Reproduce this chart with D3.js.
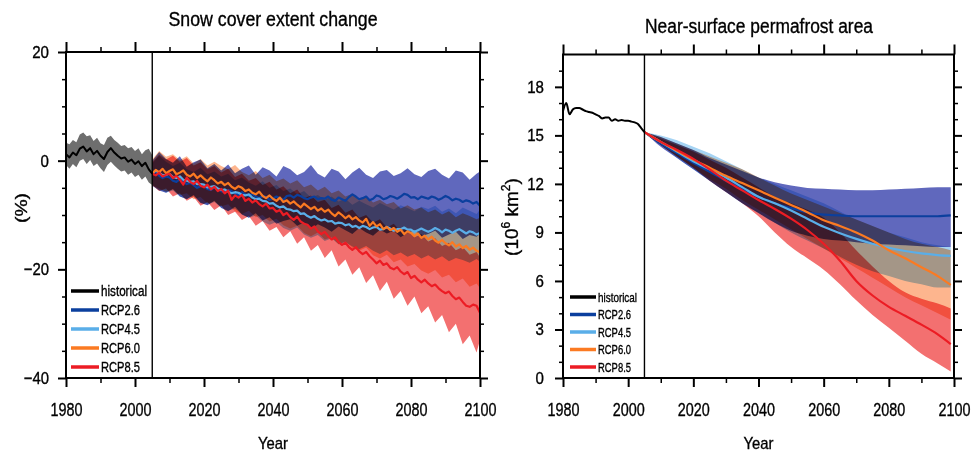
<!DOCTYPE html>
<html lang="en">
<head>
  <meta charset="UTF-8">
  <title>Snow cover extent change / Near-surface permafrost area</title>
  <style>
    body { margin: 0; background: #fff; }
    svg text { font-family: "Liberation Sans", Arial, sans-serif; fill: #000; stroke: #000; stroke-width: 0.35px; }
  </style>
</head>
<body>
<svg id="chart" width="971" height="452"></svg>
<script src="https://d3js.org/d3.v7.min.js"></script>
<script>
  // ---------- data ----------
  var scenarios = ['RCP2.6', 'RCP4.5', 'RCP6.0', 'RCP8.5'];
  var legendLabels = ['historical', 'RCP2.6', 'RCP4.5', 'RCP6.0', 'RCP8.5'];

  // snow cover extent change (%), historical 1980-2005
  var snowHistYears = d3.range(1980, 2006);
  var snowHist = [1.2, 0.6, 1.5, 1.0, 2.2, 2.6, 1.7, 2.3, 1.2, 1.8, 0.9, 0.3, 1.6, 2.3, 1.5, 0.9, 0.4, 0.6, -0.2, 0.2, -0.6, -0.1, -1.0, -0.4, -1.6, -2.4];
  var snowHistHi = [3.3, 3.0, 3.8, 3.4, 4.8, 5.2, 4.5, 4.7, 3.6, 4.2, 3.2, 2.9, 4.2, 4.6, 3.8, 3.3, 2.7, 2.9, 2.3, 2.5, 1.8, 2.3, 1.2, 1.9, 2.2, 1.0];
  var snowHistLo = [-0.8, -1.5, -0.6, -1.2, 0.0, 0.3, -0.6, 0.1, -1.0, -0.5, -1.4, -2.1, -0.8, -0.2, -0.9, -1.5, -2.0, -1.8, -2.6, -2.2, -3.0, -2.6, -3.5, -2.9, -4.0, -4.5];

  // scenario means 2005-2100, yearly
  var snowYears = d3.range(2005, 2101);
  var snowRcp26 = [-2.4, -2.1, -2.8, -3.2, -2.9, -3.1, -3.7, -3.9, -3.4, -3.8,
    -4.3, -4.1, -4.5, -5.0, -4.7, -4.6, -5.2, -5.4, -4.9, -5.3,
    -5.6, -5.9, -5.4, -5.6, -6.1, -6.3, -5.8, -6.2, -6.5, -6.1,
    -6.6, -6.9, -6.5, -6.7, -7.2, -7.0, -6.6, -6.9, -7.2, -6.5,
    -6.4, -6.8, -6.3, -6.5, -6.9, -7.1, -6.8, -6.6, -7.1, -6.9,
    -7.0, -6.6, -7.2, -7.4, -6.8, -7.1, -7.4, -6.7, -6.2, -6.6,
    -7.1, -6.9, -6.6, -7.3, -7.0, -6.4, -6.6, -7.1, -6.9, -6.5,
    -6.7, -7.0, -6.6, -6.1, -6.3, -6.8, -6.7, -7.1, -6.6, -6.8,
    -7.0, -6.6, -6.8, -7.2, -6.9, -6.5, -6.8, -7.3, -7.0, -7.2,
    -7.6, -7.3, -7.5, -7.9, -7.6, -8.3];
  var snowRcp45 = [-2.4, -1.8, -2.2, -2.7, -2.6, -2.4, -3.0, -3.2, -2.9, -3.5,
    -3.7, -3.9, -3.8, -4.3, -4.3, -4.4, -4.9, -4.8, -4.7, -5.1,
    -5.4, -5.3, -5.7, -6.0, -5.8, -5.9, -6.3, -6.4, -6.2, -6.8,
    -7.1, -7.0, -7.4, -7.5, -7.9, -7.8, -8.3, -8.6, -8.4, -8.9,
    -9.0, -9.3, -9.2, -9.8, -9.7, -10.2, -10.5, -10.2, -10.7, -11.0,
    -10.8, -11.2, -11.1, -11.6, -11.4, -11.5, -11.9, -11.7, -12.2, -12.0,
    -12.4, -12.0, -12.2, -12.6, -12.3, -12.2, -12.7, -12.6, -12.2, -12.5,
    -12.9, -12.6, -12.6, -12.3, -12.7, -12.7, -13.1, -12.8, -12.5, -12.8,
    -13.1, -12.8, -12.4, -12.7, -13.2, -12.7, -12.9, -13.3, -12.9, -12.6,
    -13.0, -13.4, -13.0, -13.2, -13.6, -13.3];
  var snowRcp60 = [-2.4, -1.7, -2.1, -1.5, -2.3, -1.9, -1.6, -2.5, -2.2, -1.8,
    -2.6, -2.9, -2.4, -3.2, -2.7, -3.3, -3.8, -3.1, -3.6, -4.2,
    -3.9, -4.5, -4.1, -4.8, -5.2, -4.7, -5.0, -5.6, -5.3, -5.9,
    -6.2, -5.7, -6.5, -6.9, -6.4, -7.0, -7.4, -6.8, -7.6, -7.3,
    -7.9, -7.5, -8.1, -8.6, -7.9, -8.4, -8.9, -8.5, -9.2, -8.8,
    -9.4, -9.0, -9.7, -10.2, -9.5, -10.0, -10.6, -10.1, -10.8, -10.4,
    -11.0, -11.4, -10.7, -12.0, -11.3, -12.1, -11.7, -12.6, -12.2, -12.8,
    -12.4, -13.1, -12.7, -13.5, -13.0, -13.3, -13.9, -13.4, -14.2, -13.8,
    -14.5, -14.0, -14.7, -15.1, -14.6, -15.2, -15.6, -15.0, -15.8, -15.4,
    -16.1, -15.7, -16.4, -16.0, -16.6, -16.9];
  var snowRcp85 = [-2.4, -2.7, -2.2, -2.9, -2.6, -2.4, -3.2, -2.8, -3.5, -4.4,
    -3.1, -3.9, -4.3, -3.7, -4.6, -4.9, -4.4, -5.3, -4.8, -5.6,
    -5.2, -6.0, -5.5, -7.2, -6.4, -6.8, -6.3, -7.4, -7.0, -7.7,
    -7.3, -8.0, -8.4, -7.9, -8.8, -8.7, -9.4, -9.1, -10.0, -9.6,
    -10.4, -10.9, -10.3, -11.2, -11.6, -11.8, -12.5, -12.1, -13.0, -13.5,
    -13.1, -13.9, -14.5, -14.1, -15.0, -15.5, -15.1, -15.9, -16.4, -15.9,
    -16.7, -17.2, -16.8, -17.6, -18.2, -18.9, -18.4, -19.2, -18.9, -19.7,
    -20.0, -19.6, -20.4, -20.9, -20.5, -21.6, -21.2, -21.9, -22.4, -21.9,
    -22.6, -23.1, -22.8, -23.5, -24.0, -24.4, -24.1, -24.9, -25.5, -25.2,
    -26.0, -26.7, -26.9, -26.5, -26.7, -28.0];

  // scenario spread, every second year 2005-2099 plus 2100
  var snowBandYears = d3.range(2005, 2100, 2).concat([2100]);
  var snowRcp26Hi = [0.0, 1.6, 0.3, -0.4, 0.8, -1.1, -0.3, 0.2, -1.4, -0.6,
    -1.8, -0.7, -2.3, -1.5, -0.9, -2.6, -1.2, -1.8, -2.9, -1.0,
    -1.6, -2.7, -2.1, -0.8, -2.4, -3.1, -1.5, -2.0, -3.4, -2.2,
    -1.3, -2.6, -3.2, -2.0, -1.7, -2.8, -2.3, -1.4, -2.5, -3.0,
    -1.9, -1.5, -2.6, -3.3, -1.8, -2.2, -3.5, -2.4, -2.0];
  var snowRcp26Lo = [-4.6, -5.5, -5.9, -5.2, -6.6, -7.1, -6.3, -7.8, -8.2, -7.4,
    -8.7, -9.3, -8.5, -9.9, -10.5, -9.7, -11.0, -10.4, -11.6, -11.1,
    -10.8, -12.0, -11.4, -12.6, -11.7, -12.3, -13.1, -12.1, -12.8, -13.5,
    -12.4, -13.2, -13.8, -12.7, -13.4, -12.9, -14.1, -13.3, -12.8, -13.9,
    -13.5, -12.9, -14.2, -13.6, -13.1, -14.4, -13.7, -14.0, -13.5];
  var snowRcp45Hi = [-0.5, 0.9, -0.2, -1.0, -0.4, -1.6, -2.1, -1.3, -2.5, -2.0,
    -2.9, -2.4, -3.6, -3.1, -4.0, -4.6, -3.8, -5.0, -4.5, -5.6,
    -5.1, -6.2, -5.6, -6.8, -6.3, -7.2, -6.6, -7.5, -7.0, -8.1,
    -7.4, -8.0, -8.6, -7.8, -8.4, -9.0, -8.2, -8.7, -9.3, -8.5,
    -8.9, -8.3, -9.4, -8.8, -9.7, -8.6, -9.2, -9.8, -9.0];
  var snowRcp45Lo = [-4.4, -5.3, -5.9, -5.5, -6.6, -7.0, -6.5, -7.7, -8.1, -7.6,
    -8.6, -9.2, -8.8, -9.9, -10.5, -10.1, -11.2, -11.8, -11.3, -12.4,
    -12.9, -12.3, -13.6, -14.2, -13.7, -14.8, -14.3, -15.4, -15.0, -15.8,
    -16.3, -15.7, -16.6, -17.2, -16.5, -17.4, -16.9, -17.7, -17.2, -18.0,
    -17.4, -18.2, -17.6, -18.5, -17.9, -18.3, -18.8, -18.1, -18.6];
  var snowRcp60Hi = [0.2, 1.8, 0.7, 1.2, 0.1, 0.8, -0.5, 0.3, -0.9, -0.2,
    -1.0, -1.6, -0.8, -2.1, -2.7, -1.9, -3.2, -2.6, -3.8, -3.3,
    -4.2, -3.6, -4.9, -4.4, -5.5, -4.8, -6.0, -5.5, -6.6, -6.1,
    -7.1, -6.5, -7.7, -7.2, -8.0, -7.6, -8.8, -8.2, -9.0, -8.6,
    -9.5, -9.0, -9.9, -9.3, -10.4, -9.7, -10.2, -10.8, -10.5];
  var snowRcp60Lo = [-4.6, -5.1, -5.7, -5.3, -6.3, -6.0, -7.1, -6.7, -7.9, -7.5,
    -8.4, -8.0, -9.3, -9.8, -9.2, -10.4, -10.0, -11.2, -10.7, -11.9,
    -12.5, -12.0, -13.3, -13.9, -13.2, -14.5, -14.1, -15.4, -14.9, -16.1,
    -16.6, -16.0, -17.4, -18.0, -17.3, -18.7, -18.2, -19.5, -19.0, -20.2,
    -20.8, -20.1, -21.5, -21.0, -22.4, -21.7, -23.2, -22.6, -23.5];
  var snowRcp85Hi = [-0.3, 1.1, 0.2, 0.9, -0.2, 0.5, -0.9, -0.3, -1.6, -1.0,
    -2.2, -1.5, -3.0, -2.4, -3.7, -3.2, -4.5, -3.9, -5.3, -4.7,
    -6.0, -5.3, -6.9, -6.4, -7.6, -7.2, -8.7, -8.1, -9.6, -9.0,
    -10.5, -10.0, -11.4, -10.8, -12.3, -11.6, -13.0, -12.6, -14.1, -13.5,
    -14.9, -14.3, -15.7, -15.1, -16.5, -15.9, -17.3, -16.8, -17.8];
  var snowRcp85Lo = [-4.5, -5.6, -5.1, -6.6, -6.0, -7.4, -6.7, -8.3, -7.6, -9.1,
    -8.2, -10.0, -9.4, -10.9, -10.2, -12.0, -11.1, -12.9, -12.2, -14.1,
    -13.0, -15.3, -14.1, -16.6, -15.5, -17.9, -16.5, -19.5, -18.2, -21.0,
    -19.6, -22.5, -21.1, -24.0, -22.3, -25.4, -24.0, -26.7, -25.0, -28.1,
    -26.8, -29.8, -28.4, -31.6, -30.0, -33.8, -32.2, -35.3, -33.0];

  // near-surface permafrost area (10^6 km2)
  var permHistYears = d3.range(1980, 2006);
  var permHist = [16.5, 17.0, 16.3, 16.6, 16.7, 16.7, 16.6, 16.5, 16.45, 16.4, 16.3, 16.2, 16.05, 16.1, 16.1, 15.9, 16.0, 15.9, 15.95, 15.9, 15.9, 15.85, 15.8, 15.7, 15.45, 15.2];

  var permYears = [2005, 2010, 2015, 2020, 2025, 2030, 2035, 2040, 2045, 2050, 2055, 2060, 2065, 2070, 2075, 2080, 2085, 2090, 2095, 2099];
  var permRcp26 = [15.2, 14.5, 13.9, 13.3, 12.75, 12.2, 11.7, 11.2, 10.8, 10.5, 10.25, 10.1, 10.05, 10.0, 10.0, 10.0, 10.0, 10.0, 10.0, 10.05];
  var permRcp45 = [15.2, 14.6, 14.0, 13.4, 12.9, 12.4, 11.8, 11.2, 10.8, 10.35, 9.85, 9.35, 8.95, 8.6, 8.3, 8.05, 7.85, 7.7, 7.6, 7.55];
  var permRcp60 = [15.2, 14.6, 14.05, 13.5, 13.0, 12.5, 12.05, 11.6, 11.15, 10.7, 10.25, 9.75, 9.4, 9.0, 8.5, 7.9, 7.4, 6.85, 6.3, 5.75];
  var permRcp85 = [15.2, 14.6, 14.1, 13.55, 12.9, 12.2, 11.6, 11.0, 10.45, 9.85, 9.15, 8.3, 7.25, 6.0, 5.1, 4.4, 3.85, 3.3, 2.7, 2.1];

  var permRcp26Hi = [15.2, 14.9, 14.5, 14.1, 13.6, 13.2, 12.8, 12.4, 12.1, 11.9, 11.75, 11.7, 11.65, 11.6, 11.6, 11.65, 11.7, 11.75, 11.8, 11.8];
  var permRcp26Lo = [15.2, 14.3, 13.6, 12.9, 12.2, 11.5, 10.8, 10.2, 9.6, 9.1, 8.8, 8.6, 8.5, 8.4, 8.3, 8.25, 8.2, 8.15, 8.1, 8.1];
  var permRcp45Hi = [15.2, 15.0, 14.7, 14.3, 13.9, 13.4, 12.9, 12.4, 12.0, 11.6, 11.2, 10.8, 10.3, 9.8, 9.4, 9.0, 8.7, 8.4, 8.2, 8.1];
  var permRcp45Lo = [15.2, 14.4, 13.6, 12.9, 12.2, 11.5, 10.8, 10.2, 9.6, 9.0, 8.5, 8.0, 7.5, 7.0, 6.6, 6.3, 6.0, 5.8, 5.6, 5.6];
  var permRcp60Hi = [15.2, 14.9, 14.5, 14.1, 13.7, 13.3, 12.9, 12.4, 11.9, 11.4, 11.0, 10.6, 10.2, 9.8, 9.4, 9.0, 8.6, 8.3, 8.1, 7.9];
  var permRcp60Lo = [15.2, 14.4, 13.7, 13.0, 12.3, 11.7, 11.0, 10.4, 9.8, 9.2, 8.6, 8.0, 7.4, 6.8, 6.2, 5.6, 5.0, 4.5, 4.0, 3.6];
  var permRcp85Hi = [15.2, 14.8, 14.4, 14.0, 13.5, 13.0, 12.4, 11.8, 11.2, 10.8, 10.4, 9.9, 9.0, 7.9, 6.9, 6.0, 5.3, 4.9, 4.6, 4.3];
  var permRcp85Lo = [15.2, 14.4, 13.7, 13.0, 12.2, 11.5, 10.8, 10.0, 9.0, 8.1, 7.4, 6.7, 5.8, 4.8, 3.9, 3.1, 2.3, 1.5, 0.9, 0.4];

  // ---------- styles ----------
  var lineColor = { 'historical': '#000000', 'RCP2.6': '#0b3f9e', 'RCP4.5': '#5aaee8', 'RCP6.0': '#fb7a22', 'RCP8.5': '#ec1c24' };
  var bandColor = { 'RCP2.6': '#6068bd', 'RCP4.5': '#a5d3f3', 'RCP6.0': '#fdb58e', 'RCP8.5': '#f37070' };

  var svg = d3.select('#chart');

  function zip(xs, ys) {
    return xs.map(function(x, i) { return [x, ys[i]]; });
  }

  function drawPanel(cfg) {
    var g = svg.append('g');
    var x = d3.scaleLinear().domain([1980, 2100]).range([cfg.left, cfg.right]);
    var y = d3.scaleLinear().domain(cfg.yDomain).range([cfg.bottom, cfg.top]);
    var curve = cfg.smooth ? d3.curveMonotoneX : d3.curveLinear;

    var area = d3.area()
      .x(function(d) { return x(d[0]); })
      .y0(function(d) { return y(d[1]); })
      .y1(function(d) { return y(d[2]); })
      .curve(curve);
    var line = d3.line()
      .x(function(d) { return x(d[0]); })
      .y(function(d) { return y(d[1]); })
      .curve(curve);

    // historical spread
    if (cfg.histHi) {
      g.append('path')
        .datum(cfg.histYears.map(function(yr, i) { return [yr, cfg.histLo[i], cfg.histHi[i]]; }))
        .attr('fill', '#6e6e6e')
        .attr('d', area);
    }

    // scenario spreads, multiplied so overlaps darken
    var bands = g.append('g').style('isolation', 'isolate');
    scenarios.forEach(function(s) {
      var b = cfg.bands[s];
      bands.append('path')
        .datum(cfg.bandYears.map(function(yr, i) { return [yr, b[0][i], b[1][i]]; }))
        .attr('fill', bandColor[s])
        .style('mix-blend-mode', 'multiply')
        .attr('d', area);
    });

    scenarios.forEach(function(s) {
      g.append('path')
        .datum(zip(cfg.years, cfg.means[s]))
        .attr('fill', 'none')
        .attr('stroke', lineColor[s])
        .attr('stroke-width', 2.2)
        .attr('stroke-linejoin', 'round')
        .attr('d', line);
    });

    g.append('path')
      .datum(zip(cfg.histYears, cfg.hist))
      .attr('fill', 'none')
      .attr('stroke', '#000')
      .attr('stroke-width', 2)
      .attr('stroke-linejoin', 'round')
      .attr('d', line);

    // 2005 divider
    g.append('line')
      .attr('x1', x(2005)).attr('x2', x(2005))
      .attr('y1', cfg.top).attr('y2', cfg.bottom)
      .attr('stroke', '#000').attr('stroke-width', 1.4);

    // axes: major + minor ticks on all four sides, pointing outward
    var xMajor = d3.range(1980, 2101, 20);
    var xMinor = d3.range(1990, 2100, 20);

    function tidy(sel, width) {
      sel.attr('font-size', null).attr('font-family', null);
      sel.select('.domain').remove();
      sel.selectAll('.tick line').attr('stroke', '#000').attr('stroke-width', width);
    }

    var bottom = g.append('g').attr('transform', 'translate(0,' + cfg.bottom + ')');
    bottom.append('g').call(d3.axisBottom(x).tickValues(xMajor).tickSize(9).tickPadding(16).tickFormat(d3.format('d')))
      .call(tidy, 2)
      .selectAll('text')
      .attr('font-size', 19)
      .attr('textLength', 32)
      .attr('lengthAdjust', 'spacingAndGlyphs');
    bottom.append('g').call(d3.axisBottom(x).tickValues(xMinor).tickSize(5).tickFormat(''))
      .call(tidy, 1.5);

    var top = g.append('g').attr('transform', 'translate(0,' + cfg.top + ')');
    top.append('g').call(d3.axisTop(x).tickValues(xMajor).tickSize(10).tickFormat('')).call(tidy, 2);
    top.append('g').call(d3.axisTop(x).tickValues(xMinor).tickSize(5).tickFormat('')).call(tidy, 1.5);

    var leftAx = g.append('g').attr('transform', 'translate(' + cfg.left + ',0)');
    leftAx.append('g').call(d3.axisLeft(y).tickValues(cfg.yMajor).tickSize(8).tickPadding(cfg.yPad).tickFormat(d3.format('d')))
      .call(tidy, 2)
      .selectAll('text')
      .attr('font-size', 17)
      .attr('textLength', function(d) { return String(d).length * 8.4; })
      .attr('lengthAdjust', 'spacingAndGlyphs');
    leftAx.append('g').call(d3.axisLeft(y).tickValues(cfg.yMinor).tickSize(4).tickFormat('')).call(tidy, 1.5);

    var rightAx = g.append('g').attr('transform', 'translate(' + cfg.right + ',0)');
    rightAx.append('g').call(d3.axisRight(y).tickValues(cfg.yMajor).tickSize(8).tickFormat('')).call(tidy, 2);
    rightAx.append('g').call(d3.axisRight(y).tickValues(cfg.yMinor).tickSize(4).tickFormat('')).call(tidy, 1.5);

    // frame
    g.append('rect')
      .attr('x', cfg.left).attr('y', cfg.top)
      .attr('width', cfg.right - cfg.left).attr('height', cfg.bottom - cfg.top)
      .attr('fill', 'none').attr('stroke', '#000').attr('stroke-width', 2);

    // titles
    g.append('text')
      .attr('x', cfg.titleX).attr('y', cfg.titleY)
      .attr('text-anchor', 'middle')
      .attr('font-size', 20)
      .attr('textLength', cfg.titleLen)
      .attr('lengthAdjust', 'spacingAndGlyphs')
      .text(cfg.title);

    g.append('text')
      .attr('x', (cfg.left + cfg.right) / 2).attr('y', 449)
      .attr('text-anchor', 'middle')
      .attr('font-size', 17)
      .attr('textLength', 30)
      .attr('lengthAdjust', 'spacingAndGlyphs')
      .text('Year');

    // legend
    var lg = g.append('g');
    legendLabels.forEach(function(name, i) {
      var ly = cfg.legend.y0 + i * cfg.legend.dy;
      lg.append('line')
        .attr('x1', cfg.legend.x0).attr('x2', cfg.legend.x1)
        .attr('y1', ly).attr('y2', ly)
        .attr('stroke', lineColor[name]).attr('stroke-width', 3.5);
      lg.append('text')
        .attr('x', cfg.legend.x1 + 2).attr('y', ly)
        .attr('dy', '0.36em')
        .attr('font-size', cfg.legend.size)
        .attr('textLength', name === 'historical' ? cfg.legend.histLen : cfg.legend.rcpLen)
        .attr('lengthAdjust', 'spacingAndGlyphs')
        .text(name);
    });

    return g;
  }

  var snowPanel = drawPanel({
    left: 66, right: 480, top: 52, bottom: 378,
    yDomain: [-40, 20],
    yMajor: [-40, -20, 0, 20],
    yMinor: d3.range(-35, 20, 5).filter(function(v) { return v % 20 !== 0; }),
    yPad: 9,
    smooth: false,
    histYears: snowHistYears, hist: snowHist, histHi: snowHistHi, histLo: snowHistLo,
    years: snowYears,
    means: { 'RCP2.6': snowRcp26, 'RCP4.5': snowRcp45, 'RCP6.0': snowRcp60, 'RCP8.5': snowRcp85 },
    bandYears: snowBandYears,
    bands: {
      'RCP2.6': [snowRcp26Lo, snowRcp26Hi],
      'RCP4.5': [snowRcp45Lo, snowRcp45Hi],
      'RCP6.0': [snowRcp60Lo, snowRcp60Hi],
      'RCP8.5': [snowRcp85Lo, snowRcp85Hi]
    },
    title: 'Snow cover extent change', titleX: 273, titleY: 26, titleLen: 209,
    legend: { x0: 71, x1: 99, y0: 291, dy: 19, size: 14, histLen: 46, rcpLen: 39 }
  });

  svg.append('text')
    .attr('transform', 'translate(27,208) rotate(-90)')
    .attr('text-anchor', 'middle')
    .attr('font-size', 17)
    .attr('textLength', 30)
    .attr('lengthAdjust', 'spacingAndGlyphs')
    .text('(%)');

  var permPanel = drawPanel({
    left: 563, right: 954, top: 54.5, bottom: 378,
    yDomain: [0, 20],
    yMajor: d3.range(0, 19, 3),
    yMinor: d3.range(1, 20).filter(function(v) { return v % 3 !== 0; }),
    yPad: 11,
    smooth: true,
    histYears: permHistYears, hist: permHist,
    years: permYears,
    means: { 'RCP2.6': permRcp26, 'RCP4.5': permRcp45, 'RCP6.0': permRcp60, 'RCP8.5': permRcp85 },
    bandYears: permYears,
    bands: {
      'RCP2.6': [permRcp26Lo, permRcp26Hi],
      'RCP4.5': [permRcp45Lo, permRcp45Hi],
      'RCP6.0': [permRcp60Lo, permRcp60Hi],
      'RCP8.5': [permRcp85Lo, permRcp85Hi]
    },
    title: 'Near-surface permafrost area', titleX: 759, titleY: 33, titleLen: 228,
    legend: { x0: 570, x1: 596, y0: 297, dy: 17.5, size: 13, histLen: 39, rcpLen: 33 }
  });

  var unit = svg.append('text')
    .attr('transform', 'translate(518,217) rotate(-90)')
    .attr('text-anchor', 'middle')
    .attr('font-size', 19);
  unit.append('tspan').text('(10');
  unit.append('tspan').attr('font-size', 12).attr('dy', -8).text('6');
  unit.append('tspan').attr('dy', 8).text(' km');
  unit.append('tspan').attr('font-size', 12).attr('dy', -8).text('2');
  unit.append('tspan').attr('dy', 8).text(')');
</script>
</body>
</html>
